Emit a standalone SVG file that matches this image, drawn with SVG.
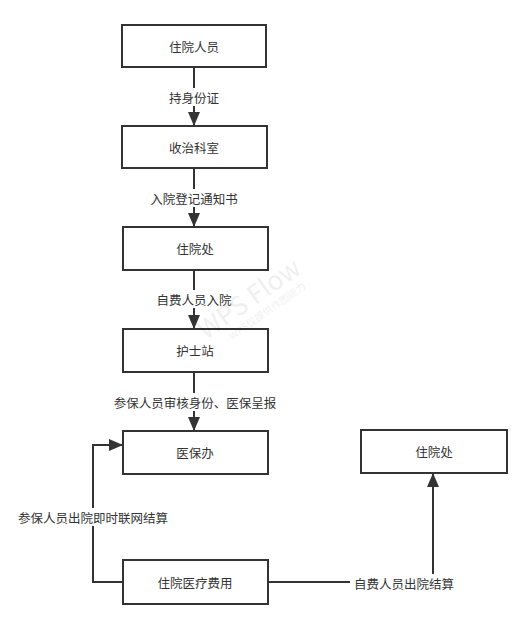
<svg xmlns="http://www.w3.org/2000/svg" width="531" height="628" viewBox="0 0 531 628">
<style>
.node rect{fill:#fff;stroke:#333;stroke-width:2}
text{font-family:"Noto Sans CJK SC","Liberation Sans",sans-serif;font-size:12.5px;fill:#333;text-anchor:middle;dominant-baseline:central}
.edge{fill:none;stroke:#333;stroke-width:2}
.lbl{fill:#fff}
.wm{fill:#000;opacity:0.06}
</style>
<defs>
<marker id="arr" markerWidth="14" markerHeight="12" refX="13" refY="6" orient="auto" markerUnits="userSpaceOnUse">
<path d="M0,0 L14,6 L0,12 Z" fill="#333"/>
</marker>
</defs>
<rect width="531" height="628" fill="#fff"/>
<g id="connectors">
<path class="edge" d="M194,67 V125" marker-end="url(#arr)"/>
<path class="edge" d="M194,168 V226" marker-end="url(#arr)"/>
<path class="edge" d="M194,270 V328" marker-end="url(#arr)"/>
<path class="edge" d="M194,372 V430" marker-end="url(#arr)"/>
<path class="edge" d="M123,582 H93 V445 H122" marker-end="url(#arr)"/>
<path class="edge" d="M268,582 H433 V474" marker-end="url(#arr)"/>
<rect class="lbl" x="166" y="88" width="56" height="18"/>
<text x="194" y="97">持身份证</text>
<rect class="lbl" x="149" y="189" width="91" height="18"/>
<text x="194" y="198">入院登记通知书</text>
<rect class="lbl" x="155" y="290" width="78" height="18"/>
<text x="194" y="299">自费人员入院</text>
<rect class="lbl" x="110" y="393" width="170" height="18"/>
<text x="195" y="402">参保人员审核身份、医保呈报</text>
<rect class="lbl" x="14" y="508" width="158" height="18"/>
<text x="93" y="517">参保人员出院即时联网结算</text>
<rect class="lbl" x="350" y="574" width="106" height="18"/>
<text x="404" y="583">自费人员出院结算</text>
</g>
<g id="n1" class="node"><rect x="122" y="25" width="144" height="42"/><text x="194" y="46">住院人员</text></g>
<g id="n2" class="node"><rect x="122" y="126" width="145" height="42"/><text x="194" y="147">收治科室</text></g>
<g id="n3" class="node"><rect x="123" y="227" width="145" height="43"/><text x="195" y="248.5">住院处</text></g>
<g id="n4" class="node"><rect x="123" y="329" width="145" height="43"/><text x="195" y="350.5">护士站</text></g>
<g id="n5" class="node"><rect x="123" y="431" width="145" height="43"/><text x="195" y="452.5">医保办</text></g>
<g id="n6" class="node"><rect x="123" y="560" width="145" height="44"/><text x="195" y="582">住院医疗费用</text></g>
<g id="n7" class="node"><rect x="361" y="430" width="146" height="43"/><text x="434" y="451.5">住院处</text></g>
<g id="watermark" transform="translate(250,300) rotate(-35)">
<text class="wm" x="0" y="-4" style="font-size:26px">WPS Flow</text>
<text class="wm" x="8" y="18" style="font-size:10px">WPS仅提供作图能力</text>
</g>
</svg>
